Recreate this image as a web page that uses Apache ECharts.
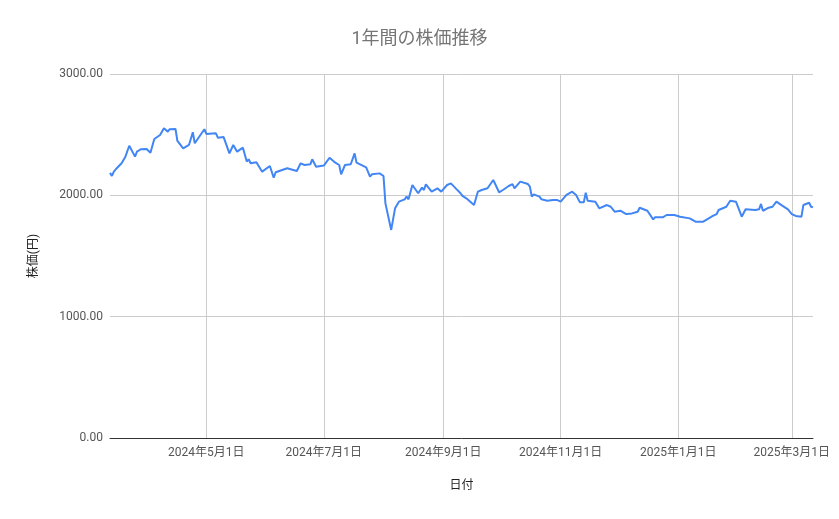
<!DOCTYPE html>
<html><head><meta charset="utf-8">
<script src="https://cdn.jsdelivr.net/npm/echarts@6/dist/echarts.min.js"></script>
<style>html,body{margin:0;padding:0;background:#fff}#c{width:839px;height:519px}</style>
</head><body><div id="c"></div>
<script>
const dates = [
'2024-03-12','2024-03-13','2024-03-14','2024-03-15','2024-03-18','2024-03-20','2024-03-22','2024-03-25','2024-03-26','2024-03-28',
'2024-03-31','2024-04-02','2024-04-04','2024-04-07','2024-04-09','2024-04-11','2024-04-12','2024-04-15','2024-04-16','2024-04-19',
'2024-04-22','2024-04-24','2024-04-25','2024-04-30','2024-05-01','2024-05-06','2024-05-07','2024-05-10','2024-05-13','2024-05-15',
'2024-05-17','2024-05-20','2024-05-22','2024-05-23','2024-05-24','2024-05-27','2024-05-30','2024-06-03','2024-06-05','2024-06-06',
'2024-06-12','2024-06-17','2024-06-19','2024-06-21','2024-06-24','2024-06-25','2024-06-27','2024-07-01','2024-07-02','2024-07-04',
'2024-07-07','2024-07-09','2024-07-10','2024-07-12','2024-07-15','2024-07-17','2024-07-18','2024-07-23','2024-07-25','2024-07-26',
'2024-07-30','2024-08-01','2024-08-02','2024-08-05','2024-08-07','2024-08-09','2024-08-12','2024-08-13','2024-08-14','2024-08-16',
'2024-08-19','2024-08-21','2024-08-22','2024-08-23','2024-08-26','2024-08-29','2024-08-31','2024-09-03','2024-09-04','2024-09-05',
'2024-09-08','2024-09-10','2024-09-11','2024-09-12','2024-09-13','2024-09-17','2024-09-19','2024-09-21','2024-09-24','2024-09-27',
'2024-09-30','2024-10-02','2024-10-05','2024-10-07','2024-10-08','2024-10-11','2024-10-15','2024-10-16','2024-10-17','2024-10-18',
'2024-10-21','2024-10-22','2024-10-25','2024-10-28','2024-10-29','2024-10-30','2024-11-01','2024-11-04','2024-11-07','2024-11-09',
'2024-11-11','2024-11-13','2024-11-14','2024-11-15','2024-11-19','2024-11-21','2024-11-25','2024-11-27','2024-11-28','2024-11-29',
'2024-12-02','2024-12-05','2024-12-08','2024-12-11','2024-12-12','2024-12-16','2024-12-19','2024-12-20','2024-12-24','2024-12-26',
'2024-12-30','2025-01-02','2025-01-07','2025-01-10','2025-01-14','2025-01-16','2025-01-19','2025-01-21','2025-01-22','2025-01-26',
'2025-01-28','2025-01-31','2025-02-03','2025-02-05','2025-02-10','2025-02-12','2025-02-13','2025-02-14','2025-02-17','2025-02-19',
'2025-02-21','2025-02-24','2025-02-27','2025-02-28','2025-03-01','2025-03-03','2025-03-06','2025-03-07','2025-03-10','2025-03-11',
'2025-03-12'
];
const prices = [
2185,2160,2195,2215,2264,2319,2409,2319,2360,2380,
2382,2351,2464,2497,2552,2525,2545,2547,2448,2388,
2415,2520,2429,2545,2506,2511,2475,2480,2346,2415,
2360,2393,2278,2297,2264,2272,2195,2242,2145,2190,
2223,2200,2264,2250,2256,2297,2236,2245,2250,2310,
2269,2250,2173,2250,2256,2346,2269,2231,2154,2173,
2181,2159,1934,1715,1893,1948,1967,1989,1967,2085,
2017,2063,2044,2091,2030,2058,2030,2085,2072,2099,
2049,2017,1995,2003,1975,1920,2030,2044,2058,2126,
2025,2044,2077,2093,2058,2113,2093,2072,1989,2008,
1989,1967,1956,1962,1956,1962,1948,2003,2030,2003,
1942,1942,2022,1956,1948,1893,1920,1906,1893,1865,
1873,1846,1851,1865,1898,1873,1802,1819,1819,1838,
1838,1824,1810,1783,1783,1802,1830,1846,1879,1906,
1956,1948,1824,1885,1879,1885,1929,1873,1898,1906,
1948,1915,1885,1893,1846,1830,1824,1920,1939,1906,
1901
];
const xTickDates = ['2024-05-01','2024-07-01','2024-09-01','2024-11-01','2025-01-01','2025-03-01'];
const yTicks = [0, 1000, 2000, 3000];

const ts = s => { const p = s.split('-').map(Number); return Date.UTC(p[0], p[1]-1, p[2]); };
const xTicks = xTickDates.map(ts);
const seriesData = dates.map((d, i) => [ts(d), prices[i]]);
const fmtDate = v => { const d = new Date(v); return d.getUTCFullYear() + '年' + (d.getUTCMonth()+1) + '月' + d.getUTCDate() + '日'; };
const FONT = 'Roboto, "Noto Sans CJK JP", sans-serif';

const chart = echarts.init(document.getElementById('c'), null, {renderer: 'canvas'});
chart.setOption({
  animation: false,
  backgroundColor: '#ffffff',
  title: {
    text: '1年間の株価推移', left: 'center', top: 26,
    textStyle: {color: '#757575', fontSize: 18, fontWeight: 'normal', fontFamily: FONT}
  },
  grid: {left: 110, right: 26, top: 74, bottom: 81},
  xAxis: {
    type: 'value',
    min: seriesData[0][0], max: seriesData[seriesData.length-1][0],
    name: '日付', nameLocation: 'middle', nameGap: 42,
    nameTextStyle: {color: '#222', fontSize: 12, fontFamily: FONT},
    axisLine: {show: true, onZero: false, lineStyle: {color: '#333', width: 1}},
    axisTick: {show: false, customValues: xTicks},
    axisLabel: {customValues: xTicks, formatter: fmtDate, color: '#555', fontSize: 12, margin: 9, fontFamily: FONT},
    splitLine: {show: true, lineStyle: {color: '#cccccc', width: 1}}
  },
  yAxis: {
    type: 'value', min: yTicks[0], max: yTicks[yTicks.length-1], interval: 1000,
    name: '株価(円)', nameLocation: 'middle', nameGap: 70, nameRotate: 90,
    nameTextStyle: {color: '#222', fontSize: 12, fontFamily: FONT},
    axisLine: {show: false}, axisTick: {show: false},
    axisLabel: {formatter: v => v.toFixed(2), color: '#555', fontSize: 12, margin: 7, fontFamily: FONT},
    splitLine: {show: true, lineStyle: {color: '#cccccc', width: 1}}
  },
  series: [{
    type: 'line', data: seriesData, showSymbol: false, symbol: 'none',
    lineStyle: {color: '#4285F4', width: 2}, z: 3
  }]
});
</script></body></html>
